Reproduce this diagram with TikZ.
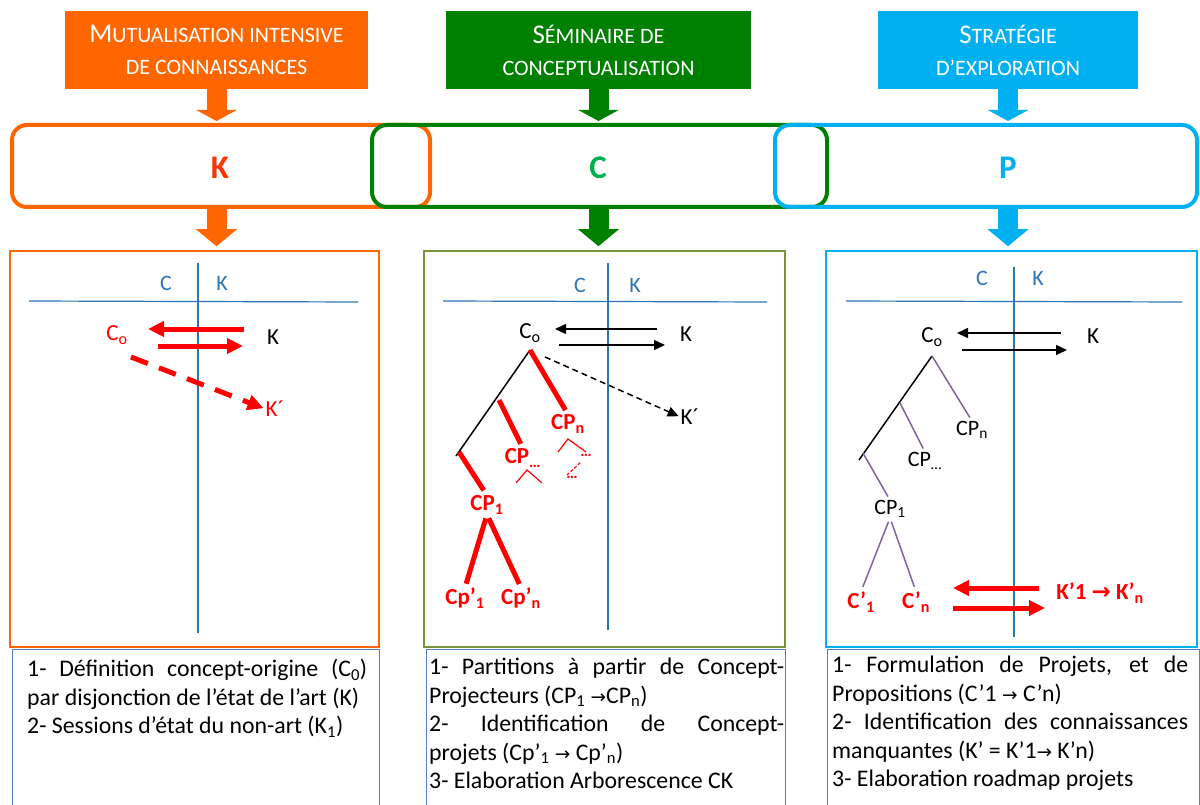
\documentclass[tikz,border=0pt]{standalone}
\usepackage{fontspec}
\setmainfont{Carlito}
\newfontfamily\arrowfont{DejaVu Sans}
\usetikzlibrary{arrows.meta,positioning}

\definecolor{orK}{RGB}{255,102,0}
\definecolor{grC}{RGB}{0,128,0}
\definecolor{blP}{RGB}{0,176,240}
\definecolor{letK}{RGB}{255,51,0}
\definecolor{letC}{RGB}{0,176,80}
\definecolor{axisblue}{RGB}{46,117,182}
\definecolor{olive}{RGB}{119,147,60}
\definecolor{boxblue}{RGB}{79,129,189}
\definecolor{treepurple}{RGB}{128,100,162}

\newcommand{\capL}[1]{{\fontsize{27}{32}\selectfont #1}}
\newcommand{\tto}{{\arrowfont\fontsize{18.5}{19}\selectfont →}}

\begin{document}
\begin{tikzpicture}[
    x=1pt, y=-1pt,
    every node/.style={inner sep=0pt},
    header/.style={fill=#1, text=white, align=center,
        minimum height=78pt, font=\fontsize{22}{32}\selectfont},
    phase/.style={draw=#1, line width=4pt, rounded corners=15pt,
        minimum height=82pt},
    phaselbl/.style={text=#1, font=\fontsize{33}{36}\selectfont\bfseries},
    bigarrow/.style 2 args={color=#1, line width=20pt,
        -{Triangle[length=#2,width=40pt]}},
    panel/.style={draw=#1, line width=1.5pt, minimum height=396pt},
    tbox/.style={draw=boxblue, line width=1pt},
    desc/.style={text width=#1, align=justify,
        font=\fontsize{23.8}{28.5}\selectfont},
    axis/.style={draw=axisblue, line width=1.2pt},
    axlbl/.style={text=axisblue, font=\fontsize{22}{26}\selectfont},
    lbl/.style={font=\fontsize{23}{27}\selectfont},
    cplbl/.style={font=\fontsize{22}{26}\selectfont},
    redlbl/.style={text=red, font=\fontsize{23}{27}\selectfont},
    redbold/.style={text=red, font=\fontsize{23}{27}\selectfont\bfseries},
    dots/.style={text=red, font=\fontsize{16}{17}\selectfont\bfseries},
    redarrow/.style={red, line width=5pt,
        -{Triangle[length=16pt,width=15pt]}},
    blkarrow/.style={line width=1.5pt, -{Triangle[length=11pt,width=10pt]}},
    trunk/.style={line width=1.5pt},
    redbranch/.style={red, line width=5pt},
    purplebranch/.style={treepurple, line width=1.5pt},
    smallred/.style={red, line width=1.2pt}
]
\useasboundingbox (0,0) rectangle (1200,805);
\fill[white] (0,0) rectangle (1200,805);

% headers
\node[header=orK, minimum width=303pt] (h1) at (216.5,50)
    {\capL{M}UTUALISATION INTENSIVE\\DE CONNAISSANCES};
\node[header=grC, minimum width=305pt] (h2) at (598.5,50)
    {\capL{S}ÉMINAIRE DE\\CONCEPTUALISATION};
\node[header=blP, minimum width=260pt] (h3) at (1008,50)
    {\capL{S}TRATÉGIE\\D’EXPLORATION};

% K C P row
\node[phase=orK, minimum width=418pt] (kb) at (221,166) {};
\node[phase=grC, minimum width=455pt] (cb) at (599.5,166) {};
\node[phase=blP, minimum width=422pt] (pb) at (986,166) {};
\node[phaselbl=letK] (kl) at (220,168) {K};
\node[phaselbl=letC] (cl) at (598,168) {C};
\node[phaselbl=blP] (pl) at (1008,168) {P};

% panels and text boxes
\draw[tbox] (12,649) rectangle (379,830);
\draw[tbox] (426,649) rectangle (785,830);
\draw[tbox] (827,649) rectangle (1199,830);
\node[panel=orK, minimum width=369pt] (p1) at (194.5,449) {};
\node[panel=olive, minimum width=361pt] (p2) at (604.5,449) {};
\node[panel=blP, minimum width=371pt] (p3) at (1011.5,449) {};

\foreach \h/\b/\p/\col in {h1/kb/p1/orK, h2/cb/p2/grC, h3/pb/p3/blP}{
    \draw[bigarrow={\col}{11pt}, shorten >=2pt] (\h.south) -- (\h.south |- \b.north);
    \draw[bigarrow={\col}{17pt}, shorten >=4pt] (\h.south |- \b.south) -- (\h.south |- \p.north);
}

% panel K
\draw[axis] (198,263) -- (198,633);
\draw[axis] (29,301) -- (358,302);
\node[axlbl] (c1) at (166,283) {C};
\node[axlbl] (k1) at (222,283) {K};
\node[redlbl] (co1) at (117,335) {C\textsubscript{o}};
\node[lbl] (kk1) at (273,337) {K};
\node[redlbl] (kp1) at (275,409) {K´};
\path (244,329) coordinate (ka1) (148,329) coordinate (kb1)
      (158,346) coordinate (kc1) (243,346) coordinate (kd1)
      (131,357) coordinate (ks1);
\draw[redarrow] (ka1) -- (kb1);
\draw[redarrow] (kc1) -- (kd1);
\draw[redarrow, dash pattern=on 18pt off 12pt, shorten >=2pt] (ks1) -- (kp1.west);

% panel C
\draw[axis] (608,263) -- (608,630);
\draw[axis] (443,301) -- (767,302);
\node[axlbl] (c2) at (580,285) {C};
\node[axlbl] (k2) at (635,285) {K};
\node[lbl] (co2) at (530,333) {C\textsubscript{o}};
\node[lbl] (kk2) at (686,334) {K};
\node[lbl] (kp2) at (690,417) {K´};
\path (657,329) coordinate (ka2) (555,329) coordinate (kb2)
      (559,345) coordinate (kc2) (665,345) coordinate (kd2)
      (545,357) coordinate (ks2);
\draw[blkarrow] (ka2) -- (kb2);
\draw[blkarrow] (kc2) -- (kd2);
\draw[blkarrow, dash pattern=on 6pt off 4pt, shorten >=2pt] (ks2) -- (kp2.west);
\node[redbold] (cpn2) at (568,424) {CP\textsubscript{n}};
\node[redbold] (cpd2) at (523,458) {CP\textsubscript{…}};
\node[redbold] (cpo2) at (487,505) {CP\textsubscript{1}};
\node[redbold] (cqa2) at (465,598) {Cp’\textsubscript{1}};
\node[redbold] (cqb2) at (521,598) {Cp’\textsubscript{n}};
\path (530,350) coordinate (top2) (499,400) coordinate (mid2)
      (459,452) coordinate (low2) (456,456) coordinate (end2);
\draw[trunk] (top2) -- (end2);
\draw[redbranch, shorten >=5pt] (top2) -- (cpn2.north);
\draw[redbranch, shorten >=5pt] (mid2) -- (cpd2.north);
\draw[redbranch, shorten >=6pt] (low2) -- (cpo2.north);
\draw[redbranch, shorten <=4pt, shorten >=4pt] (cpo2.south) -- (cqa2.north);
\draw[redbranch, shorten <=4pt, shorten >=4pt] (cpo2.south) -- (cqb2.north);
\draw[smallred] (558,452) -- (568,439) -- (586,452);
\node[dots] (dn2) at (586,455) {…};
\draw[smallred, densely dashed] (567,475) -- (581,462);
\node[dots] (dm2) at (572,477) {…};
\draw[smallred] (516,483) -- (527,470) -- (542,483);

% panel P
\draw[axis] (1014,267) -- (1014,637);
\draw[axis] (846,301) -- (1182,302);
\node[axlbl] (c3) at (982,278) {C};
\node[axlbl] (k3) at (1038,278) {K};
\node[lbl] (co3) at (932,337) {C\textsubscript{o}};
\node[lbl] (kk3) at (1093,336) {K};
\path (1061,333) coordinate (ka3) (957,333) coordinate (kb3)
      (962,350) coordinate (kc3) (1067,350) coordinate (kd3);
\draw[blkarrow] (ka3) -- (kb3);
\draw[blkarrow] (kc3) -- (kd3);
\node[cplbl] (cpn3) at (972,430) {CP\textsubscript{n}};
\node[cplbl] (cpd3) at (925,461) {CP\textsubscript{…}};
\node[cplbl] (cpo3) at (890,509) {CP\textsubscript{1}};
\node[redbold] (cqa3) at (861,602) {C’\textsubscript{1}};
\node[redbold] (cqb3) at (916,602) {C’\textsubscript{n}};
\path (932,356) coordinate (top3) (900,403) coordinate (mid3)
      (863,453) coordinate (low3) (859,460) coordinate (end3);
\draw[trunk] (top3) -- (end3);
\draw[purplebranch, shorten >=4pt] (top3) -- (cpn3.north);
\draw[purplebranch, shorten >=4pt] (mid3) -- (cpd3.north);
\draw[purplebranch, shorten >=4pt] (low3) -- (cpo3.north);
\draw[purplebranch, shorten <=4pt, shorten >=5pt] (cpo3.south) -- (cqa3.north);
\draw[purplebranch, shorten <=4pt, shorten >=5pt] (cpo3.south) -- (cqb3.north);
\node[redbold] (kn3) at (1100,593) {K’1 {\arrowfont\bfseries →} K’\textsubscript{n}};
\path (1039,588) coordinate (ke3) (953,588) coordinate (kf3)
      (953,608) coordinate (kg3) (1045,608) coordinate (kh3);
\draw[redarrow] (ke3) -- (kf3);
\draw[redarrow] (kg3) -- (kh3);

% descriptions
\node[desc=340pt, anchor=north west] (d1) at (27,659)
    {1- Définition concept-origine (C\textsubscript{0})\linebreak
     par disjonction de l’état de l’art (K)\\
     2- Sessions d’état du non-art (K\textsubscript{1})};
\node[desc=355pt, anchor=north west] (d2) at (429,658)
    {1- Partitions à partir de Concept-\linebreak
     Projecteurs (CP\textsubscript{1} \tto CP\textsubscript{n})\\
     2- Identification de Concept-\linebreak
     projets (Cp’\textsubscript{1} \tto{} Cp’\textsubscript{n})\\
     3- Elaboration Arborescence CK};
\node[desc=356pt, anchor=north west] (d3) at (832,656)
    {1- Formulation de Projets, et de\linebreak
     Propositions (C’1 \tto{} C’n)\\
     2- Identification des connaissances\linebreak
     manquantes (K’ = K’1\tto{} K’n)\\
     3- Elaboration roadmap projets};
\end{tikzpicture}
\end{document}
